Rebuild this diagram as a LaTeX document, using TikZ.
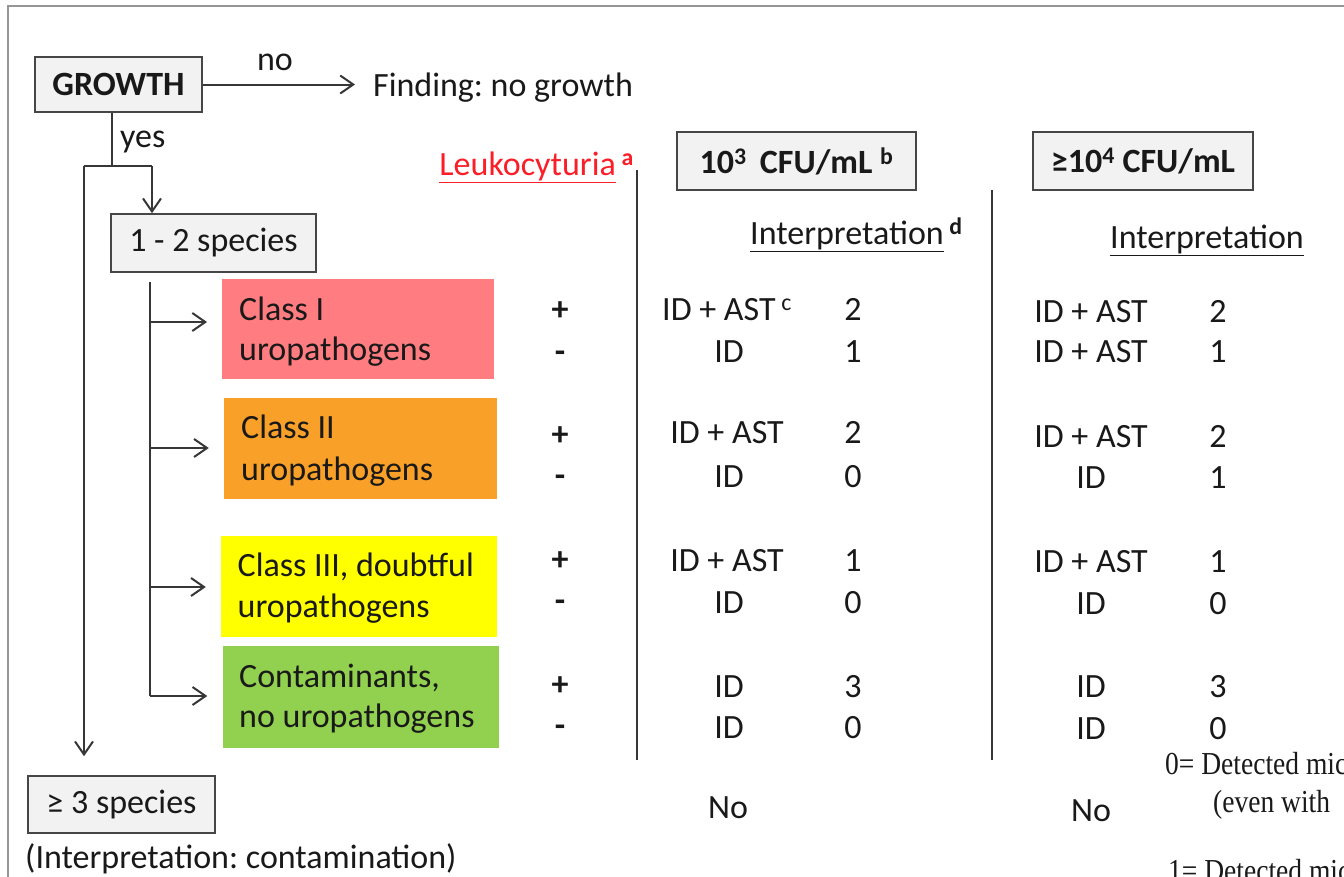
\documentclass[tikz,border=0pt]{standalone}
\usepackage{fontspec}
\setmainfont{Carlito}
\newfontfamily\notefont[FakeStretch=0.86]{Liberation Serif}
\usetikzlibrary{arrows.meta}
\definecolor{ink}{RGB}{25,25,25}
\definecolor{linec}{RGB}{55,55,55}
\definecolor{boxfill}{RGB}{242,242,242}
\definecolor{boxdraw}{RGB}{70,70,70}
\definecolor{framec}{RGB}{150,150,150}
\definecolor{clsone}{RGB}{255,124,128}
\definecolor{clstwo}{RGB}{249,160,40}
\definecolor{clsthree}{RGB}{255,255,0}
\definecolor{clsfour}{RGB}{146,208,80}
\definecolor{leuko}{RGB}{250,30,40}
\frenchspacing
\begin{document}
\begin{tikzpicture}[x=1pt,y=-1pt,
  every node/.style={inner sep=0pt, text=ink, font=\fontsize{34}{41}\selectfont},
  bold/.style={font=\fontsize{34}{41}\selectfont\bfseries},
  graybox/.style={draw=boxdraw, fill=boxfill, line width=1.6pt},
  conn/.style={draw=linec, line width=2pt},
  arr/.style={conn, -{Straight Barb[length=13pt,width=18pt,line width=2pt]}},
  sepline/.style={draw=linec, line width=2pt},
  txt/.style={anchor=base west},
  cell/.style={anchor=base},
  note/.style={anchor=base west, font=\notefont\fontsize{32}{38}\selectfont},
]
\useasboundingbox (0,0) rectangle (1344,876);
\begin{scope}
\clip (0,0) rectangle (1344,876);
\draw[draw=framec, line width=2.5pt] (8,6) rectangle (1500,1000);

% top flow
\node[graybox, bold, minimum width=167pt, minimum height=55pt] (growth) at (118.5,84.5) {GROWTH};
\node[txt] (nogrowth) at (373,96) {Finding: no growth};
\node (nolab) at (275,62.5) {no};
\draw[arr, shorten >=18pt] (growth.east) -- (growth.east -| nogrowth.west);
\node[txt] (yeslab) at (120,147) {yes};

\node[graybox, minimum width=205pt, minimum height=58pt] (sp12) at (213.5,243) {1 - 2 species};
\node[graybox, minimum width=187pt, minimum height=57pt] (sp3) at (121.5,804.5) {≥ 3 species};
\node[txt] (contam) at (25,868) {(Interpretation: contamination)};

\coordinate (jy) at (112,166);
\coordinate (jl) at (84,166);
\coordinate (jr) at (152,166);
\draw[conn] (growth.south -| jy) -- (jy);
\draw[conn] (jl) -- (jr);
\draw[arr] (jr) -- (jr |- sp12.north);
\draw[arr, shorten >=19pt] (jl) -- (jl |- sp3.north);

% class boxes
\node[fill=clsone, minimum width=272pt, minimum height=100pt] (c1) at (358.25,329) {};
\node[fill=clstwo, minimum width=273pt, minimum height=101pt] (c2) at (360.5,448.5) {};
\node[fill=clsthree, minimum width=276pt, minimum height=101pt] (c3) at (359,586.5) {};
\node[fill=clsfour, minimum width=276pt, minimum height=102pt] (c4) at (360.5,697) {};

\node[txt] (c1a) at (239,320) {Class I};
\node[txt] (c1b) at (239,360) {uropathogens};
\node[txt] (c2a) at (241,438) {Class II};
\node[txt] (c2b) at (241,480) {uropathogens};
\node[txt] (c3a) at (237.5,576) {Class III, doubtful};
\node[txt] (c3b) at (237.5,617) {uropathogens};
\node[txt] (c4a) at (239,687) {Contaminants,};
\node[txt] (c4b) at (239,727) {no uropathogens};

\coordinate (ttop) at (150,282);
\coordinate (a1) at (150,322);
\coordinate (a2) at (150,448);
\coordinate (a3) at (150,587);
\coordinate (a4) at (150,696);
\draw[conn] (ttop) -- (a4);
\draw[arr, shorten >=15pt] (a1) -- (a1 -| c1.west);
\draw[arr, shorten >=15pt] (a2) -- (a2 -| c2.west);
\draw[arr, shorten >=15pt] (a3) -- (a3 -| c3.west);
\draw[arr, shorten >=15pt] (a4) -- (a4 -| c4.west);

% headers
\node[anchor=base east, text=leuko] (leuk) at (634,175) {\underline{Leukocyturia}\,\textsuperscript{\bfseries a}};
\node[graybox, bold, minimum width=239pt, minimum height=58pt] (h3) at (796.5,161) {10\textsuperscript{3}\, CFU/mL \textsuperscript{b}};
\node[graybox, bold, minimum width=220pt, minimum height=58pt] (h4) at (1143,161) {≥10\textsuperscript{4} CFU/mL};
\node[txt] (int3) at (750,244) {\underline{Interpretation}\,\textsuperscript{\bfseries d}};
\node[txt] (int4) at (1110,248) {\underline{Interpretation}};

\coordinate (s1t) at (637,170);
\coordinate (s1b) at (637,760);
\coordinate (s2t) at (992,190);
\coordinate (s2b) at (992,760);
\draw[sepline] (s1t) -- (s1b);
\draw[sepline] (s2t) -- (s2b);

% leukocyturia +/-
\node[cell, bold] (p1) at (560,320) {+};
\node[cell, bold] (m1) at (560,362) {-};
\node[cell, bold] (p2) at (560,445) {+};
\node[cell, bold] (m2) at (560,486) {-};
\node[cell, bold] (p3) at (560,570) {+};
\node[cell, bold] (m3) at (560,611) {-};
\node[cell, bold] (p4) at (560,695) {+};
\node[cell, bold] (m4) at (560,736) {-};

% column 10^3
\node[txt] (r1a) at (662,320) {ID + AST\,\textsuperscript{c}};
\node[cell] (r2a) at (729,362) {ID};
\node[cell] (r3a) at (727,443) {ID + AST};
\node[cell] (r4a) at (729,487) {ID};
\node[cell] (r5a) at (727,571) {ID + AST};
\node[cell] (r6a) at (729,613) {ID};
\node[cell] (r7a) at (729,697) {ID};
\node[cell] (r8a) at (729,738) {ID};
\node[cell] (n1a) at (853,320) {2};
\node[cell] (n2a) at (853,362) {1};
\node[cell] (n3a) at (853,443) {2};
\node[cell] (n4a) at (853,487) {0};
\node[cell] (n5a) at (853,571) {1};
\node[cell] (n6a) at (853,613) {0};
\node[cell] (n7a) at (853,697) {3};
\node[cell] (n8a) at (853,738) {0};
\node[cell] (noa) at (728,818) {No};

% column 10^4
\node[cell] (r1b) at (1091,322) {ID + AST};
\node[cell] (r2b) at (1091,362) {ID + AST};
\node[cell] (r3b) at (1091,447) {ID + AST};
\node[cell] (r4b) at (1091,488) {ID};
\node[cell] (r5b) at (1091,572) {ID + AST};
\node[cell] (r6b) at (1091,614) {ID};
\node[cell] (r7b) at (1091,697) {ID};
\node[cell] (r8b) at (1091,739) {ID};
\node[cell] (n1b) at (1218,322) {2};
\node[cell] (n2b) at (1218,362) {1};
\node[cell] (n3b) at (1218,447) {2};
\node[cell] (n4b) at (1218,488) {1};
\node[cell] (n5b) at (1218,572) {1};
\node[cell] (n6b) at (1218,614) {0};
\node[cell] (n7b) at (1218,697) {3};
\node[cell] (n8b) at (1218,739) {0};
\node[cell] (nob) at (1091,821) {No};

% cut-off legend
\node[note] (leg0) at (1165,774) {0= Detected mic};
\node[note] (leg0b) at (1213,812) {(even with};
\node[note] (leg1) at (1168,881) {1= Detected mic};
\end{scope}
\end{tikzpicture}
\end{document}
